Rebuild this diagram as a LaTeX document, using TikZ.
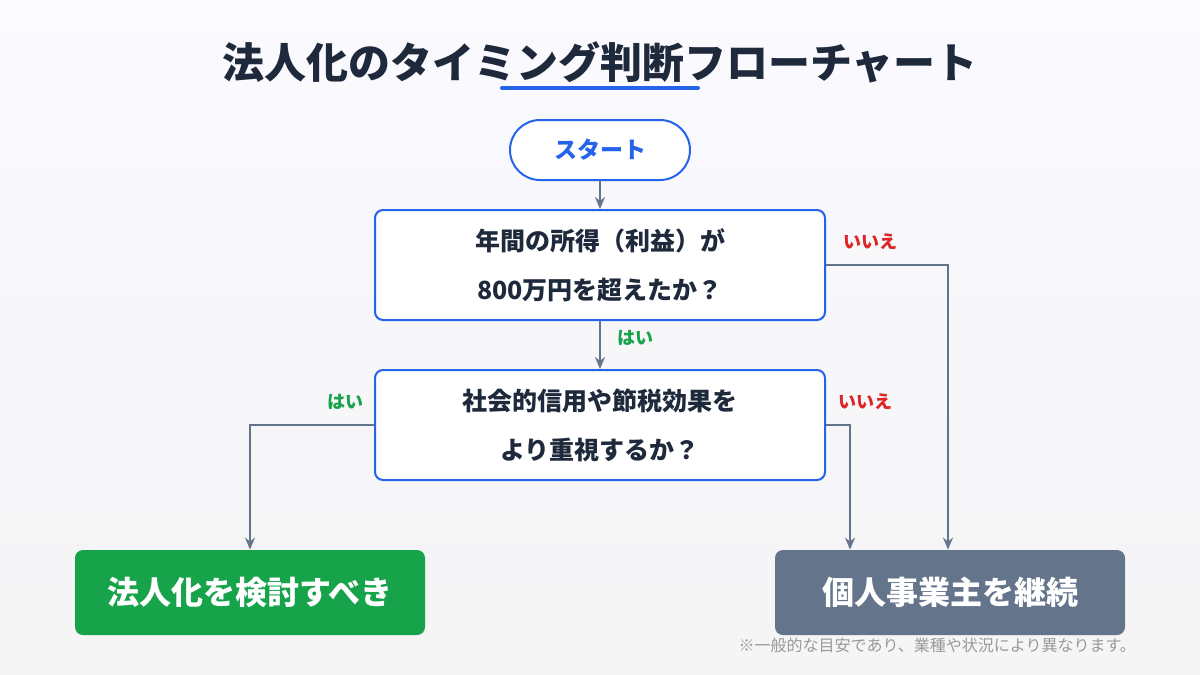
\documentclass[tikz,border=0pt]{standalone}
\usepackage{fontspec}
\setmainfont{Noto Sans CJK JP}
\usetikzlibrary{arrows.meta}
\definecolor{navy}{HTML}{1E293B}
\definecolor{blu}{HTML}{2563EB}
\definecolor{grn}{HTML}{16A34A}
\definecolor{gry}{HTML}{64748B}
\definecolor{rd}{HTML}{DC2626}
\definecolor{ln}{HTML}{64748B}
\tikzset{
 qbox/.style={draw=blu,line width=1pt,fill=white,rounded corners=4pt,minimum width=225pt,minimum height=55pt,align=center,font=\fontsize{12.5}{24.5}\selectfont\bfseries,text=navy},
 endbox/.style={rounded corners=4pt,minimum width=175pt,minimum height=42.5pt,font=\fontsize{16}{18}\selectfont\bfseries,text=white},
 conn/.style={draw=ln,line width=0.8pt,-{Stealth[length=6pt,width=5pt]}},
 yes/.style={font=\fontsize{9}{10}\selectfont\bfseries,text=grn},
 no/.style={font=\fontsize{9}{10}\selectfont\bfseries,text=rd}
}
\begin{document}
\begin{tikzpicture}[x=0.5pt,y=-0.5pt]
\shade[top color=blue!2!white,bottom color=blue!4!gray!8] (0,0) rectangle (1200,675);
\useasboundingbox (0,0) rectangle (1200,675);
\node[font=\fontsize{21}{22}\selectfont\bfseries,text=navy] (title) at (600,62) {法人化のタイミング判断フローチャート};
\draw[blu,line width=2pt,line cap=round] (502,88) -- (698,88);
\node[draw=blu,line width=1pt,fill=white,rounded corners=15pt,minimum width=90pt,minimum height=30pt,font=\fontsize{11.5}{12}\selectfont\bfseries,text=blu] (start) at (600,150) {スタート};
\node[qbox] (q1) at (600,265) {年間の所得（利益）が\\800万円を超えたか？};
\node[qbox] (q2) at (600,425) {社会的信用や節税効果を\\より重視するか？};
\node[endbox,fill=grn] (corp) at (250,592.5) {法人化を検討すべき};
\node[endbox,fill=gry] (sole) at (950,592.5) {個人事業主を継続};
\draw[conn] (start) -- (q1);
\draw[conn] (q1) -- (q2);
\node[yes] (y1) at (635,338) {はい};
\draw[conn] (q1.east) -- (948,265) -- (sole.north-|948,0);
\node[no] (n1) at (870,242) {いいえ};
\draw[conn] (q2.west) -- (250,425) -- (corp.north);
\node[yes] (y2) at (345,402) {はい};
\draw[conn] (q2.east) -- (850,425) -- (sole.north-|850,0);
\node[no] (n2) at (865,402) {いいえ};
\node[font=\fontsize{8}{9}\selectfont,text=gray!80,anchor=east] (note) at (1143,645) {※一般的な目安であり、業種や状況により異なります。};
\end{tikzpicture}
\end{document}
